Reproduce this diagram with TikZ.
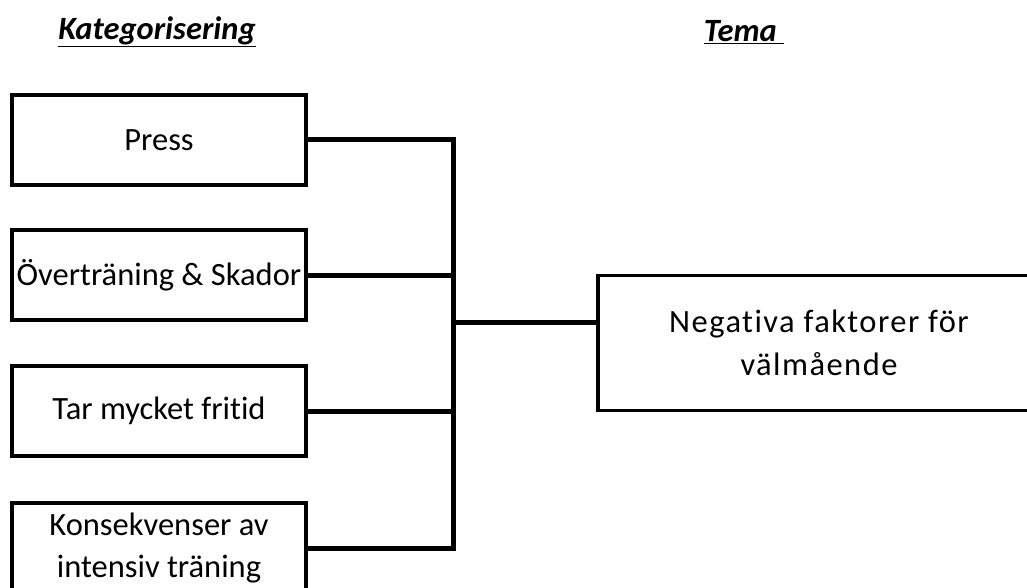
\documentclass[tikz,border=0pt]{standalone}
\usepackage{fontspec}
\setmainfont[Ligatures=NoCommon]{Carlito}
\newfontfamily\spacedfont[Ligatures=NoCommon, LetterSpace=4.5]{Carlito}
\usetikzlibrary{positioning}

\begin{document}
\begin{tikzpicture}[x=1pt, y=-1pt, font=\fontsize{32.5}{42}\selectfont,
    kat/.style={draw, line width=3.5pt, minimum width=294pt, minimum height=90pt, align=center, inner sep=0pt},
    conn/.style={line width=5pt}]
        \useasboundingbox (0,0) rectangle (1027,588);
        \clip (0,0) rectangle (1027,588);
        \node (hkat) at (157,32) {\bfseries\itshape\underline{Kategorisering}};
        \node (htema) at (744,32) {\bfseries\itshape\underline{Tema\ }};
        \foreach \y/\name/\txt in {140/press/Press,275/overtr/Överträning \& Skador,411/fritid/Tar mycket fritid,548/konsek/{Konsekvenser av\\intensiv träning}}{\node[kat] (\name) at (159,\y) {\txt};}
        \node[kat, minimum width=442pt, minimum height=135pt, font=\spacedfont\fontsize{32.5}{43}\selectfont] (tema) at (819,343) {Negativa faktorer för\\välmående};
        \coordinate (hub) at (453,322);
       \draw[conn] (press.east) -| (hub) |- (konsek.east);
       \draw[conn] (overtr.east) -- (overtr.east -| hub);
       \draw[conn] (fritid.east) -- (fritid.east -| hub);
       \draw[conn] (hub) -- (tema.west |- hub);
    \end{tikzpicture}
\end{document}
